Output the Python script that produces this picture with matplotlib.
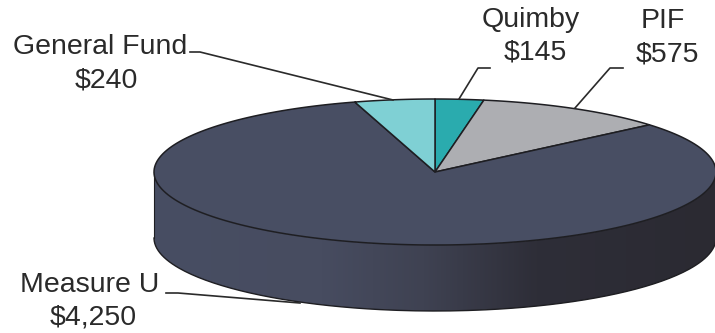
import matplotlib
matplotlib.use('Agg')
import matplotlib.pyplot as plt
from matplotlib.colors import LinearSegmentedColormap
from matplotlib.patches import Polygon
import numpy as np

labels = ['Quimby', 'PIF', 'Measure U', 'General Fund']
values = [145, 575, 4250, 240]
money = ['$145', '$575', '$4,250', '$240']
colors = ['#2aabae', '#adaeb2', '#484e63', '#7fd0d4']

# pie geometry in image pixels
cx, cy = 435, 172
a, b = 281, 73
depth = 66
edge = '#1e1e22'
text_color = '#2a2a2a'
font_size = 20.5

plt.rcParams['font.family'] = ['Liberation Sans', 'DejaVu Sans']

fig = plt.figure(figsize=(7.15, 3.33), dpi=100, facecolor='white')
ax = fig.add_axes([0, 0, 1, 1])
ax.axis('off')


def rim(start, end, n=200):
    # angles are clockwise from the top of the ellipse
    t = np.radians(np.linspace(start, end, n))
    return np.column_stack([cx + a * np.sin(t), cy - b * np.cos(t)])


# side wall, front half only, with the left to right shading
front = rim(90, 270)
side = np.vstack([front, front[::-1] + [0, depth]])
side_patch = Polygon(side, closed=True, facecolor='none', edgecolor='none')
ax.add_patch(side_patch)
shade = LinearSegmentedColormap.from_list(
    'side', [(0, '#484e63'), (0.3, '#474c60'), (0.48, '#3f4252'),
             (0.68, '#2e2e38'), (1, '#2b2a32')])
img = ax.imshow(np.linspace(0, 1, 256).reshape(1, -1), cmap=shade, aspect='auto',
                extent=[cx - a, cx + a, cy + b + depth, cy], zorder=1)
img.set_clip_path(side_patch)
ax.set_xlim(0, 715)
ax.set_ylim(333, 0)
ax.plot(front[:, 0], front[:, 1] + depth, color=edge, lw=1, zorder=2)
ax.plot([cx - a, cx - a], [cy, cy + depth], color=edge, lw=0.8, zorder=2)
ax.plot([cx + a, cx + a], [cy, cy + depth], color=edge, lw=0.8, zorder=2)

# top face, wedges clockwise from twelve o'clock
angles = np.concatenate([[0], np.cumsum(values) / np.sum(values) * 360])
for i in range(len(values)):
    arc = rim(angles[i], angles[i + 1])
    ax.add_patch(Polygon(np.vstack([[cx, cy], arc]), closed=True, facecolor=colors[i],
                         edgecolor=edge, lw=1.1, joinstyle='round', zorder=3))

# labels
ax.text(531, 20, labels[0], ha='center', va='center', fontsize=font_size, color=text_color)
ax.text(535, 53, money[0], ha='center', va='center', fontsize=font_size, color=text_color)
ax.text(663, 21, labels[1], ha='center', va='center', fontsize=font_size, color=text_color)
ax.text(667, 54, money[1], ha='center', va='center', fontsize=font_size, color=text_color)
ax.text(90, 285, labels[2], ha='center', va='center', fontsize=font_size, color=text_color)
ax.text(93, 318, money[2], ha='center', va='center', fontsize=font_size, color=text_color)
ax.text(100, 47, labels[3], ha='center', va='center', fontsize=font_size, color=text_color)
ax.text(106, 80, money[3], ha='center', va='center', fontsize=font_size, color=text_color)

# leader lines
ax.plot([490, 478, 459], [68, 68, 99], color=text_color, lw=1.2, zorder=4)
ax.plot([623, 610, 575], [68, 68, 108], color=text_color, lw=1.2, zorder=4)
ax.plot([190, 200, 393], [52, 52, 100], color=text_color, lw=1.2, zorder=4)
ax.plot([166, 178, 300], [293, 293, 303], color=text_color, lw=1.2, zorder=4)

fig.savefig('out.png', dpi=100, facecolor='white')
